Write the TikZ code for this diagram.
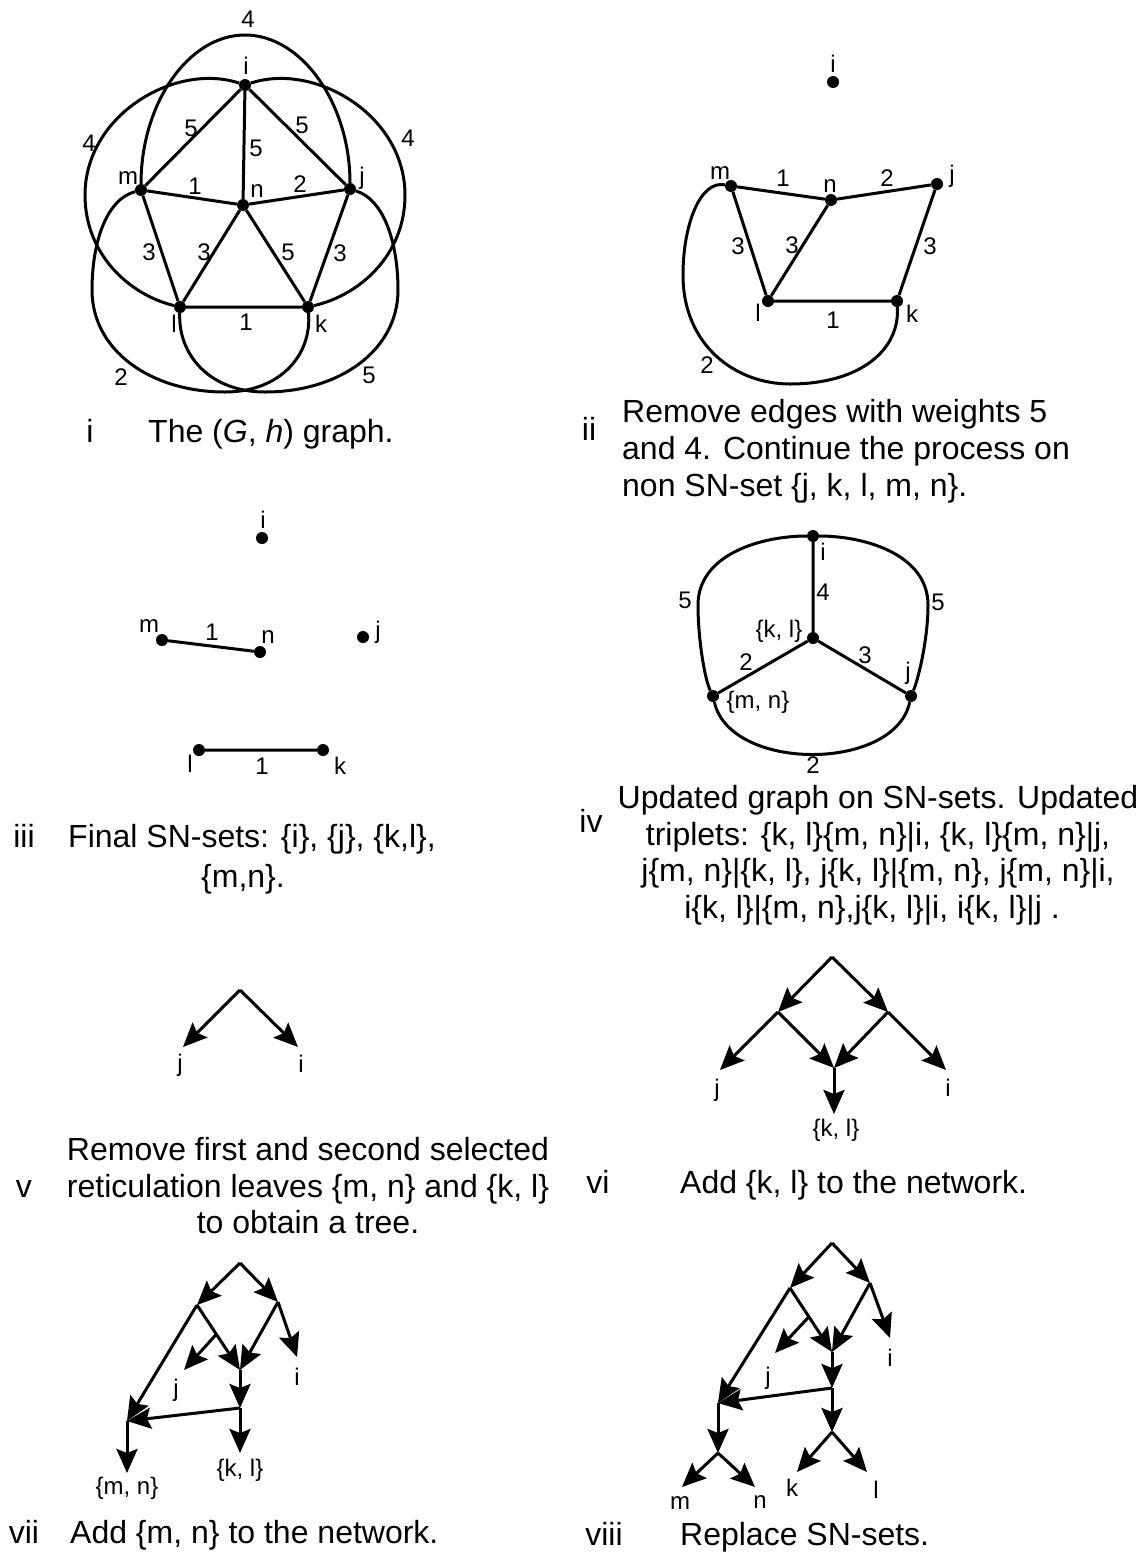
\documentclass[tikz,border=0pt]{standalone}
\usepackage{fontspec}
\setmainfont{Liberation Sans}
\usetikzlibrary{arrows.meta,calc}
\begin{document}
\begin{tikzpicture}[x=1pt,y=-1pt,
  dot/.style={circle,fill=black,inner sep=0pt,minimum size=12pt},
  edge/.style={line width=3pt,line join=round},
  arr/.style={line width=3pt,-{Stealth[length=24pt,width=21pt,inset=4pt]}},
  lab/.style={font=\fontsize{24}{28}\selectfont,inner sep=0pt},
  captxt/.style={font=\fontsize{32}{37}\selectfont,inner sep=0pt,anchor=base west},
  captxtc/.style={font=\fontsize{32}{37}\selectfont,inner sep=0pt,anchor=base},
]
\useasboundingbox (0,0) rectangle (1142,1556);

% ---------------- panel i ----------------
\node[dot] (i1) at (245,85) {};
\node[dot] (m1) at (141,190) {};
\node[dot] (n1) at (243,205) {};
\node[dot] (j1) at (350,189) {};
\node[dot] (l1) at (180,307) {};
\node[dot] (k1) at (308,307) {};
\draw[edge] (i1)--(m1) (i1)--(n1) (i1)--(j1) (m1)--(n1) (n1)--(j1)
  (m1)--(l1) (n1)--(l1) (n1)--(k1) (j1)--(k1) (l1)--(k1);
\draw[edge] (m1) .. controls (141,104) and (188,35) .. (245,35) .. controls (302,35) and (350,104) .. (j1);
\draw[edge] (i1) .. controls (175,62) and (85,115) .. (85,195) .. controls (85,255) and (130,295) .. (l1);
\draw[edge] (i1) .. controls (315,62) and (405,115) .. (405,195) .. controls (405,255) and (360,295) .. (k1);
\draw[edge] (m1) .. controls (105,200) and (92,245) .. (92,290) .. controls (92,350) and (150,392) .. (225,392) .. controls (280,392) and (312,355) .. (k1);
\draw[edge] (j1) .. controls (385,200) and (398,245) .. (398,290) .. controls (398,350) and (340,392) .. (265,392) .. controls (210,392) and (178,355) .. (l1);
\node[lab] (ti1) at (246,66) {i};
\node[lab] (tm1) at (128,178) {m};
\node[lab] (tn1) at (257,191) {n};
\node[lab] (tj1) at (362,178) {j};
\node[lab] (tl1) at (174,324) {l};
\node[lab] (tk1) at (321,324) {k};
\node[lab] (e1a) at (191,128) {5};
\node[lab] (e1b) at (256,148) {5};
\node[lab] (e1c) at (302,125) {5};
\node[lab] (e1d) at (195,186) {1};
\node[lab] (e1e) at (300,184) {2};
\node[lab] (e1f) at (149,252) {3};
\node[lab] (e1g) at (204,252) {3};
\node[lab] (e1h) at (288,252) {5};
\node[lab] (e1i) at (340,253) {3};
\node[lab] (e1j) at (246,322) {1};
\node[lab] (e1k) at (248,19) {4};
\node[lab] (e1l) at (89,143) {4};
\node[lab] (e1m) at (408,138) {4};
\node[lab] (e1n) at (121,377) {2};
\node[lab] (e1o) at (369,375) {5};

% ---------------- panel ii ----------------
\node[dot] (i2) at (833,82) {};
\node[dot] (m2) at (731,186) {};
\node[dot] (n2) at (831,200) {};
\node[dot] (j2) at (937,184) {};
\node[dot] (l2) at (768,301) {};
\node[dot] (k2) at (897,301) {};
\draw[edge] (m2)--(n2) (n2)--(j2) (m2)--(l2) (n2)--(l2) (j2)--(k2) (l2)--(k2);
\draw[edge] (m2) .. controls (700,180) and (683,225) .. (683,275) .. controls (683,345) and (735,384) .. (790,384) .. controls (860,384) and (900,350) .. (k2);
\node[lab] (ti2) at (833,64) {i};
\node[lab] (tm2) at (720,173) {m};
\node[lab] (tn2) at (830,186) {n};
\node[lab] (tj2) at (952,176) {j};
\node[lab] (tl2) at (758,313) {l};
\node[lab] (tk2) at (912,314) {k};
\node[lab] (e2a) at (783,178) {1};
\node[lab] (e2b) at (887,178) {2};
\node[lab] (e2c) at (738,246) {3};
\node[lab] (e2d) at (792,245) {3};
\node[lab] (e2e) at (930,246) {3};
\node[lab] (e2f) at (833,320) {1};
\node[lab] (e2g) at (707,365) {2};

% ---------------- panel iii ----------------
\node[dot] (i3) at (262,538) {};
\node[dot] (m3) at (162,640) {};
\node[dot] (n3) at (260,652) {};
\node[dot] (j3) at (363,637) {};
\node[dot] (l3) at (199,750) {};
\node[dot] (k3) at (323,750) {};
\draw[edge] (m3)--(n3) (l3)--(k3);
\node[lab] (ti3) at (263,520) {i};
\node[lab] (tm3) at (149,626) {m};
\node[lab] (tn3) at (268,637) {n};
\node[lab] (tj3) at (378,632) {j};
\node[lab] (tl3) at (190,764) {l};
\node[lab] (tk3) at (340,766) {k};
\node[lab] (e3a) at (212,632) {1};
\node[lab] (e3b) at (262,766) {1};

% ---------------- panel iv ----------------
\node[dot] (i4) at (813,536) {};
\node[dot] (kl4) at (813,638) {};
\node[dot] (mn4) at (713,696) {};
\node[dot] (j4) at (911,696) {};
\draw[edge] (i4)--(kl4) (kl4)--(mn4) (kl4)--(j4);
\draw[edge] (i4) .. controls (760,536) and (698,555) .. (698,605) .. controls (698,640) and (705,680) .. (mn4);
\draw[edge] (i4) .. controls (866,536) and (928,555) .. (928,605) .. controls (928,640) and (918,680) .. (j4);
\draw[edge] (mn4) .. controls (730,772) and (895,772) .. (j4);
\node[lab] (ti4) at (823,552) {i};
\node[lab] (tkl4) at (779,631) {\{k, l\}};
\node[lab] (tmn4) at (758,702) {\{m, n\}};
\node[lab] (tj4) at (908,673) {j};
\node[lab] (e4a) at (823,592) {4};
\node[lab] (e4b) at (746,662) {2};
\node[lab] (e4c) at (865,655) {3};
\node[lab] (e4d) at (685,600) {5};
\node[lab] (e4e) at (938,602) {5};
\node[lab] (e4f) at (813,765) {2};

% ---------------- panel v ----------------
\coordinate (r5) at (240,990);
\coordinate (j5) at (183,1047);
\coordinate (i5) at (298,1047);
\draw[arr] (r5)--(j5);
\draw[arr] (r5)--(i5);
\node[lab] (tj5) at (180,1065) {j};
\node[lab] (ti5) at (301,1064) {i};

% ---------------- panel vi ----------------
\coordinate (r6) at (832,957);
\coordinate (a6) at (778,1012);
\coordinate (b6) at (888,1012);
\coordinate (h6) at (834,1068);
\coordinate (j6) at (720,1070);
\coordinate (i6) at (946,1070);
\coordinate (kl6) at (834,1114);
\draw[arr] (r6)--(a6);
\draw[arr] (r6)--(b6);
\draw[arr] (a6)--(j6);
\draw[arr] (b6)--(i6);
\draw[arr] (a6)--(h6);
\draw[arr] (b6)--(h6);
\draw[arr] (h6)--(kl6);
\node[lab] (tj6) at (717,1090) {j};
\node[lab] (ti6) at (948,1088) {i};
\node[lab] (tkl6) at (836,1130) {\{k, l\}};

% ---------------- panel vii ----------------
\coordinate (r7) at (240,1263);
\coordinate (a7) at (197,1305);
\coordinate (b7) at (278,1302);
\coordinate (h7) at (240,1370);
\coordinate (p7) at ($(a7)!0.45!(h7)$);
\coordinate (j7) at (184,1370);
\coordinate (i7) at (297,1357);
\coordinate (g7) at (240,1408);
\coordinate (m7) at (127,1421);
\coordinate (mn7) at (127,1473);
\coordinate (kl7) at (240,1453);
\draw[arr] (r7)--(a7);
\draw[arr] (r7)--(b7);
\draw[arr] (b7)--(i7);
\draw[arr] (a7)--(h7);
\draw[arr] (b7)--(h7);
\draw[arr] (p7)--(j7);
\draw[arr] (h7)--(g7);
\draw[arr] (g7)--(m7);
\draw[arr] (a7)--(m7);
\draw[arr] (m7)--(mn7);
\draw[arr] (g7)--(kl7);
\node[lab] (tj7) at (176,1390) {j};
\node[lab] (ti7) at (297,1377) {i};
\node[lab] (tmn7) at (127,1488) {\{m, n\}};
\node[lab] (tkl7) at (240,1470) {\{k, l\}};

% ---------------- panel viii ----------------
\coordinate (r8) at (832,1243);
\coordinate (a8) at (790,1288);
\coordinate (b8) at (870,1283);
\coordinate (h8) at (832,1352);
\coordinate (p8) at ($(a8)!0.45!(h8)$);
\coordinate (j8) at (775,1353);
\coordinate (i8) at (890,1338);
\coordinate (g8) at (832,1388);
\coordinate (m8) at (718,1403);
\coordinate (q8) at (718,1453);
\coordinate (mm8) at (682,1487);
\coordinate (nn8) at (755,1487);
\coordinate (kk8) at (832,1432);
\coordinate (k8) at (797,1472);
\coordinate (l8) at (867,1472);
\draw[arr] (r8)--(a8);
\draw[arr] (r8)--(b8);
\draw[arr] (b8)--(i8);
\draw[arr] (a8)--(h8);
\draw[arr] (b8)--(h8);
\draw[arr] (p8)--(j8);
\draw[arr] (h8)--(g8);
\draw[arr] (g8)--(m8);
\draw[arr] (a8)--(m8);
\draw[arr] (m8)--(q8);
\draw[arr] (q8)--(mm8);
\draw[arr] (q8)--(nn8);
\draw[arr] (g8)--(kk8);
\draw[arr] (kk8)--(k8);
\draw[arr] (kk8)--(l8);
\node[lab] (tj8) at (768,1378) {j};
\node[lab] (ti8) at (890,1358) {i};
\node[lab] (tm8) at (680,1503) {m};
\node[lab] (tn8) at (760,1502) {n};
\node[lab] (tk8) at (792,1488) {k};
\node[lab] (tl8) at (876,1490) {l};

% ---------------- captions ----------------
\node[captxtc] (c1n) at (90,442) {i};
\node[captxt] (c1) at (148,442) {The (\textit{G}, \textit{h}) graph.};
\node[captxtc] (c2n) at (589,440) {ii};
\node[captxt] (c2a) at (622,422) {Remove edges with weights 5};
\node[captxt] (c2b) at (622,459) {and 4. Continue the process on};
\node[captxt] (c2c) at (622,496) {non SN-set \{j, k, l, m, n\}.};
\node[captxtc] (c3n) at (24,847) {iii};
\node[captxt] (c3a) at (68,847) {Final SN-sets: \{i\}, \{j\}, \{k,l\},};
\node[captxtc] (c3b) at (243,887) {\{m,n\}.};
\node[captxtc] (c4n) at (591,832) {iv};
\node[captxtc] (c4a) at (878,808) {Updated graph on SN-sets. Updated};
\node[captxtc] (c4b) at (878,845) {triplets: \{k, l\}\{m, n\}|i, \{k, l\}\{m, n\}|j,};
\node[captxtc] (c4c) at (878,881) {j\{m, n\}|\{k, l\}, j\{k, l\}|\{m, n\}, j\{m, n\}|i,};
\node[captxtc] (c4d) at (872,918) {i\{k, l\}|\{m, n\},j\{k, l\}|i, i\{k, l\}|j .};
\node[captxtc] (c5n) at (24,1197) {v};
\node[captxtc] (c5a) at (308,1160) {Remove first and second selected};
\node[captxtc] (c5b) at (308,1197) {reticulation leaves \{m, n\} and \{k, l\}};
\node[captxtc] (c5c) at (308,1233) {to obtain a tree.};
\node[captxtc] (c6n) at (598,1193) {vi};
\node[captxt] (c6) at (680,1193) {Add \{k, l\} to the network.};
\node[captxtc] (c7n) at (24,1543) {vii};
\node[captxt] (c7) at (70,1543) {Add \{m, n\} to the network.};
\node[captxtc] (c8n) at (604,1545) {viii};
\node[captxt] (c8) at (680,1545) {Replace SN-sets.};
\end{tikzpicture}
\end{document}
